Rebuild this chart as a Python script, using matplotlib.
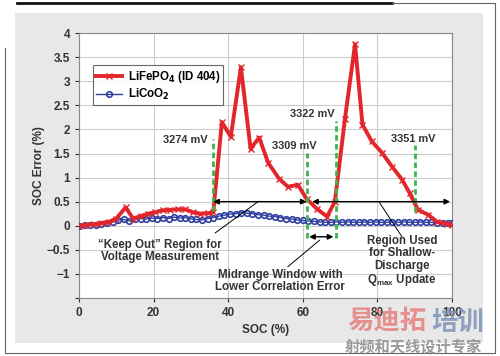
import matplotlib
matplotlib.use("Agg")
import matplotlib.pyplot as plt
from matplotlib.patches import Rectangle
from matplotlib.lines import Line2D

plt.rcParams["font.family"] = ["Liberation Sans", "DejaVu Sans"]
plt.rcParams["font.weight"] = "bold"

# ---- data ----
fe_x = [0, 2, 4, 6, 8, 10, 12.5, 14.5, 16.5, 18.5, 20.5, 22.5, 24.5, 26.5, 28.5,
        30.5, 32.5, 34.5, 36, 38.3, 40.7, 43.4, 46, 48.3, 50.7, 53.6, 56, 58.7,
        61, 63.8, 66.5, 68.6, 71.3, 74, 76, 78.5, 81.2, 83.9, 86.6, 88.7, 90.9,
        93.6, 96, 98.7, 100]
fe_y = [0, 0.02, 0.03, 0.05, 0.08, 0.15, 0.38, 0.15, 0.2, 0.25, 0.28, 0.32, 0.33,
        0.34, 0.34, 0.28, 0.25, 0.26, 0.28, 2.15, 1.85, 3.29, 1.6, 1.83, 1.31,
        0.98, 0.81, 0.85, 0.56, 0.35, 0.19, 0.5, 2.22, 3.77, 2.1, 1.75, 1.52,
        1.23, 0.96, 0.67, 0.33, 0.23, 0.08, 0.04, 0.02]

co_x = [0, 1.5, 3, 4.5, 6, 7.5, 9, 10.5, 12, 13.5, 15, 16.5, 18, 19.5, 21, 22.5,
        24, 25.5, 27, 28.5, 30, 31.5, 33, 34.5, 36, 37.5, 39, 40.5, 42, 43.5, 45,
        46.5, 48, 49.5, 51, 52.5, 54, 55.5, 57, 58.5, 60, 61.5, 63, 64.5, 66,
        67.5, 69, 70.5, 72, 73.5, 75, 76.5, 78, 79.5, 81, 82.5, 84, 85.5, 87,
        88.5, 90, 91.5, 93, 94.5, 96, 97.5, 99, 100]
co_y = [0, 0.01, 0.02, 0.02, 0.03, 0.05, 0.08, 0.12, 0.13, 0.1, 0.13, 0.15, 0.14,
        0.16, 0.15, 0.17, 0.15, 0.18, 0.16, 0.17, 0.14, 0.13, 0.12, 0.15, 0.17,
        0.2, 0.22, 0.24, 0.25, 0.27, 0.26, 0.25, 0.23, 0.22, 0.2, 0.19, 0.17,
        0.15, 0.14, 0.12, 0.11, 0.1, 0.09, 0.08, 0.07, 0.07, 0.08, 0.07, 0.08,
        0.07, 0.07, 0.08, 0.07, 0.08, 0.07, 0.07, 0.08, 0.07, 0.08, 0.07, 0.07,
        0.08, 0.07, 0.07, 0.06, 0.06, 0.05, 0.05]

# voltage markers
volt_x = [36, 61, 69, 90]
volt_lo = [0.3, -0.25, -0.25, 0.29]
volt_hi = [1.8, 1.52, 2.17, 1.67]
volt_lbl = ["3274 mV", "3309 mV", "3322 mV", "3351 mV"]
volt_lbl_x = [34.6, 63.8, 68.4, 95.7]
volt_lbl_y = [1.79, 1.65, 2.31, 1.81]

RED = "#e3262b"
BLUE = "#2f3fa0"
TXT = "#333333"
FS = 8.3

fig = plt.figure(figsize=(5, 3.56), dpi=100)

# frame and gray panel
fig.patches.append(Rectangle((0.03, 0.036), 0.936, 0.927, transform=fig.transFigure,
                             facecolor="#e8e8e8", edgecolor="none", zorder=-1))
fig.lines.append(Line2D([0.034, 0.784], [0.992, 0.992], transform=fig.transFigure,
                        color="#111111", lw=2))
fig.lines.append(Line2D([0.784, 0.99, 0.99, 0.01, 0.01], [0.992, 0.992, 0.008, 0.008, 0.865],
                        transform=fig.transFigure, color="#666666", lw=0.8))

ax = fig.add_axes([0.158, 0.163, 0.746, 0.744])
ax.set_facecolor("white")

l_co, = ax.plot(co_x, co_y, color=BLUE, lw=1, marker="o", markersize=4, fillstyle="none",
                markeredgewidth=1.2, label="LiCoO$_2$", zorder=3)
l_fe, = ax.plot(fe_x, fe_y, color=RED, lw=2.8, marker="x", markersize=5, markeredgewidth=1,
                label="LiFePO$_4$ (ID 404)", zorder=4)

for x, lo, hi, lbl, lx, ly in zip(volt_x, volt_lo, volt_hi, volt_lbl, volt_lbl_x, volt_lbl_y):
    ax.plot([x, x], [lo, hi], color="#3db54a", lw=2, ls=(0, (2, 1.2)), zorder=5)
    ax.text(lx, ly, lbl, ha="right", va="center", fontsize=7.9, color=TXT)

arrow = dict(arrowstyle="<|-|>", color="black", lw=1, mutation_scale=8,
             shrinkA=0, shrinkB=0)
ax.annotate("", xy=(36, 0.5), xytext=(61, 0.5), arrowprops=arrow, zorder=6)
ax.annotate("", xy=(62.5, 0.5), xytext=(99.5, 0.5), arrowprops=arrow, zorder=6)
ax.annotate("", xy=(61.7, -0.23), xytext=(68.2, -0.23), arrowprops=arrow, zorder=6)

# leader lines
ax.plot([36.5, 48], [-0.15, 0.5], color="black", lw=0.7, zorder=6)
ax.plot([56, 64.5], [-0.85, -0.3], color="black", lw=0.7, zorder=6)
ax.plot([80.4, 86.6], [0.5, -0.23], color="black", lw=0.7, zorder=6)

ax.text(21.7, -0.52, "\u201cKeep Out\u201d Region for\nVoltage Measurement",
        ha="center", va="center", fontsize=FS, color=TXT, linespacing=1.05)
ax.text(53.9, -1.15, "Midrange Window with\nLower Correlation Error",
        ha="center", va="center", fontsize=FS, color=TXT, linespacing=1.05)
ax.text(86.6, -0.74, "Region Used\nfor Shallow-\nDischarge\nQ$_{\\mathregular{max}}$ Update",
        ha="center", va="center", fontsize=FS, color=TXT, linespacing=1.05)

ax.set_xlim(0, 100)
ax.set_ylim(-1.5, 4)
ax.set_xticks([0, 20, 40, 60, 80, 100])
ax.set_yticks([-1.5, -1, -0.5, 0, 0.5, 1, 1.5, 2, 2.5, 3, 3.5, 4])
ax.set_yticklabels(["", "\u22121", "\u22120.5", "0", "0.5", "1", "1.5", "2", "2.5",
                    "3", "3.5", "4"])
ax.tick_params(labelsize=8.5, colors=TXT, length=3, width=0.8)
for t in ax.get_xticklabels() + ax.get_yticklabels():
    t.set_fontweight("bold")
ax.grid(color="#cccccc", lw=0.8)
ax.set_axisbelow(True)
for s in ax.spines.values():
    s.set_color("#888888")
ax.set_xlabel("SOC (%)", fontsize=8.5, color=TXT, fontweight="bold")
ax.set_ylabel("SOC Error (%)", fontsize=8.5, color=TXT, fontweight="bold")
ax.xaxis.set_label_coords(0.5, -0.1)
ax.yaxis.set_label_coords(-0.091, 0.5)

leg = ax.legend(handles=[l_fe, l_co], loc="upper left",
                bbox_to_anchor=(0.022, 0.9), fontsize=FS, frameon=True,
                fancybox=False, edgecolor="#444444", handlelength=2.2,
                handletextpad=0.5, borderpad=0.3, labelspacing=0.15,
                prop={"weight": "bold", "size": FS})
leg.get_frame().set_linewidth(0.8)

# watermark
fig.text(0.694, 0.075, "易迪拓", fontsize=19, color="#e58080", alpha=0.85,
         family=["Noto Sans CJK SC"], weight="bold")
fig.text(0.862, 0.075, "培训", fontsize=19, color="#7f94b8", alpha=0.85,
         family=["Noto Sans CJK SC"], weight="bold")
fig.text(0.69, 0.012, "射频和天线设计专家", fontsize=11, color="#999999",
         family=["Noto Sans CJK SC"])

fig.savefig("out.png", dpi=100)
